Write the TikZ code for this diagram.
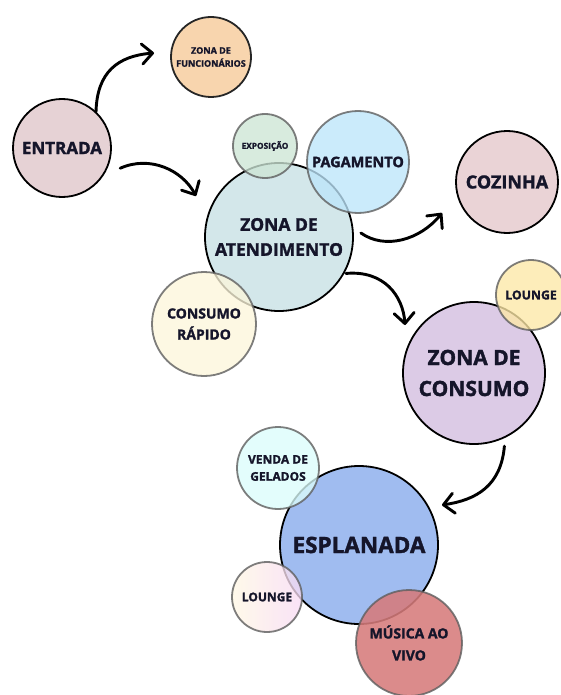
\documentclass[tikz,border=0pt]{standalone}
\usepackage{fontspec}
\setmainfont{Open Sans}[BoldFont={Open Sans Bold},BoldFeatures={FakeBold=1.6}]
\usetikzlibrary{arrows.meta}
\definecolor{txt}{HTML}{15152A}
\definecolor{cEntrada}{HTML}{E6D2D5}
\definecolor{cFunc}{HTML}{F8D5AE}
\definecolor{cExpo}{HTML}{CDE5D5}
\definecolor{cPag}{HTML}{BDE5FA}
\definecolor{cAtend}{HTML}{D3E7EA}
\definecolor{cCoz}{HTML}{EAD3D6}
\definecolor{cRapido}{HTML}{FCF6DB}
\definecolor{cLounge}{HTML}{FDE8A7}
\definecolor{cConsumo}{HTML}{DCCBE6}
\definecolor{cGelados}{HTML}{DBFDFB}
\definecolor{cEsplanada}{HTML}{A0BCF0}
\definecolor{cMusica}{HTML}{D67B7B}
\definecolor{cLoungeA}{HTML}{FFF8E4}
\definecolor{cLoungeB}{HTML}{F7DAF4}
\definecolor{rimgrey}{HTML}{5E5E5E}
\tikzset{
  zone/.style={circle, draw=black, line width=1.8pt, inner sep=0pt, align=center,
    text=txt, font=\bfseries},
  side/.style={circle, draw=rimgrey, draw opacity=0.8, line width=1.8pt, inner sep=0pt,
    align=center, text=txt, font=\bfseries, fill opacity=0.78, text opacity=1},
  flow/.style={line width=2.9pt, draw=black, line cap=round,
    -{Straight Barb[length=10.5pt,width=20pt,line cap=round,line join=round]}}
}
\begin{document}
\begin{tikzpicture}[x=1pt,y=-1pt]
\useasboundingbox (0,0) rectangle (561,695);
% main zones
\node[zone, fill=cEntrada, minimum size=98pt, font=\bfseries\fontsize{17}{20}\selectfont] (entrada) at (62,148) {ENTRADA};
\node[zone, draw=black!85, fill=cFunc, minimum size=80pt, font=\bfseries\fontsize{9}{13}\selectfont] (func) at (211,57) {ZONA DE\\FUNCIONÁRIOS};
\node[zone, fill=cAtend, minimum size=148pt, font=\bfseries\fontsize{17.5}{25}\selectfont] (atend) at (279,237) {ZONA DE\\ATENDIMENTO};
\node[zone, fill=cCoz, minimum size=102pt, font=\bfseries\fontsize{18}{21}\selectfont] (cozinha) at (507,182) {COZINHA};
\node[zone, fill=cConsumo, minimum size=142pt, font=\bfseries\fontsize{21}{31}\selectfont] (consumo) at (474,373) {ZONA DE\\CONSUMO};
\node[zone, fill=cEsplanada, minimum size=158pt, font=\bfseries\fontsize{22.5}{26}\selectfont] (esplanada) at (359,545) {ESPLANADA};
% secondary zones
\node[side, fill=cExpo, minimum size=64pt, font=\bfseries\fontsize{8.3}{10}\selectfont] (expo) at (265,146) {EXPOSIÇÃO};
\node[side, fill=cPag, minimum size=102pt, font=\bfseries\fontsize{14.5}{17}\selectfont] (pag) at (358,162) {PAGAMENTO};
\node[side, fill=cRapido, minimum size=104pt, font=\bfseries\fontsize{14}{21}\selectfont] (rapido) at (204,324) {CONSUMO\\RÁPIDO};
\node[side, fill=cLounge, minimum size=70pt, font=\bfseries\fontsize{12.3}{14}\selectfont] (lounge1) at (531,295) {LOUNGE};
\node[side, fill=cGelados, minimum size=82pt, font=\bfseries\fontsize{12}{17}\selectfont] (gelados) at (278,468) {VENDA DE\\GELADOS};
\node[side, left color=cLoungeA, right color=cLoungeB, minimum size=70pt, font=\bfseries\fontsize{12}{14}\selectfont] (lounge2) at (267,597) {LOUNGE};
\node[side, fill=cMusica, fill opacity=0.88, minimum size=106pt, font=\bfseries\fontsize{14}{22}\selectfont] (musica) at (409,643) {MÚSICA AO\\VIVO};
% arrow tips
\coordinate (tipFunc) at (154,53);
\coordinate (tipAtend) at (196,196);
\coordinate (tipCoz) at (442,213);
\coordinate (tipConsumo) at (405,325);
\coordinate (tipEsp) at (442,505);
% flows
\draw[flow] (entrada.47) .. controls (97,72) and (118,56) .. (tipFunc);
\draw[flow] ([shift={(11,4)}]entrada.-19) .. controls (150,155) and (182,170) .. (tipAtend);
\draw[flow] ([shift={(7,-4)}]atend.east) .. controls (385,250) and (420,240) .. (tipCoz);
\draw[flow] ([shift={(2,-1)}]atend.-30) .. controls (384,270) and (403,296) .. (tipConsumo);
\draw[flow] ([shift={(0,8)}]consumo.-65) .. controls (501,486) and (476,500) .. (tipEsp);
\end{tikzpicture}
\end{document}
